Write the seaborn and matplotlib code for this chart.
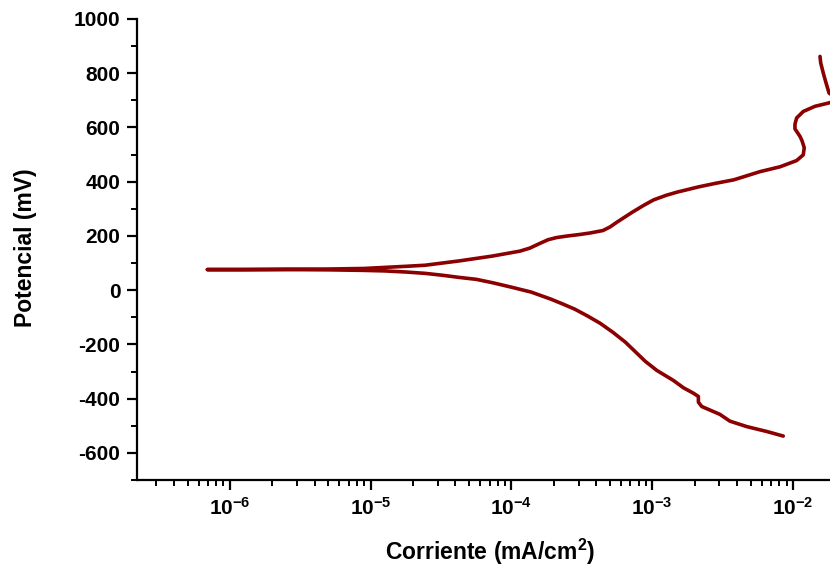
import numpy as np
import pandas as pd
import matplotlib
matplotlib.use("Agg")
import matplotlib.pyplot as plt
import matplotlib.ticker as mticker
import seaborn as sns

# log10 of current density (mA/cm2) and potential (mV), scan ordered cathodic -> anodic
log_current = [
    -2.069, -2.187, -2.329, -2.448, -2.519, -2.648, -2.672, -2.672, -2.707, -2.778,
    -2.849, -2.967, -3.05, -3.19, -3.28, -3.37, -3.46, -3.55, -3.64, -3.72,
    -3.86, -4.00, -4.13, -4.25, -4.37, -4.49, -4.613, -4.75, -4.90, -5.05,
    -5.30, -5.60, -5.90, -6.16,
    -5.90, -5.60, -5.30, -5.05, -4.90, -4.75, -4.613, -4.37, -4.133, -3.94,
    -3.87, -3.80, -3.74, -3.68, -3.60, -3.52, -3.44, -3.35, -3.30, -3.25,
    -3.14, -3.06, -2.99, -2.90, -2.82, -2.67, -2.55, -2.42, -2.235, -2.092,
    -1.974, -1.927, -1.920, -1.935, -1.950, -1.986, -1.986, -1.974, -1.927, -1.844,
    -1.749, -1.70, -1.69, -1.744, -1.765, -1.785, -1.803, -1.808,
]
potential = [
    -538, -521, -503, -483, -458, -429, -413, -392, -380, -360,
    -333, -296, -262, -192, -155, -122, -95, -70, -50, -33,
    -7, 11, 27, 40, 47, 55, 62, 67, 71, 73,
    75, 76, 76, 76,
    76, 77, 78, 80, 84, 88, 92, 108, 126, 144,
    155, 172, 186, 194, 200, 205, 211, 220, 233, 251,
    288, 313, 333, 350, 362, 381, 394, 407, 437, 455,
    478, 499, 525, 550, 567, 595, 612, 635, 659, 678,
    690, 698, 708, 727, 764, 801, 838, 862,
]

y_ticks = [-600, -400, -200, 0, 200, 400, 600, 800, 1000]
x_tick_exps = [-6, -5, -4, -3, -2]

df = pd.DataFrame({"i": np.power(10.0, log_current), "E": potential})

sns.set_theme(style="ticks")
plt.rcParams["font.family"] = ["Liberation Sans", "DejaVu Sans"]
plt.rcParams["font.weight"] = "bold"
plt.rcParams["text.color"] = "black"
plt.rcParams["axes.labelcolor"] = "black"
plt.rcParams["xtick.color"] = "black"
plt.rcParams["ytick.color"] = "black"
plt.rcParams["mathtext.fontset"] = "custom"
plt.rcParams["mathtext.rm"] = "Liberation Sans:bold"
plt.rcParams["mathtext.bf"] = "Liberation Sans:bold"
plt.rcParams["mathtext.it"] = "Liberation Sans:bold:italic"
plt.rcParams["axes.unicode_minus"] = False

fig = plt.figure(figsize=(8.30, 5.69), dpi=100)
ax = fig.add_axes([137 / 830, 1 - 480 / 569, 1 - 137 / 830, (480 - 19) / 569])

sns.lineplot(data=df, x="i", y="E", sort=False, estimator=None,
             color="#8B0000", linewidth=2.6, ax=ax)
for ln in ax.get_lines():
    ln.set_solid_joinstyle("round")
    ln.set_solid_capstyle("round")

ax.set_xscale("log")
ax.set_xlim(10 ** -6.66, 10 ** -1.737)
ax.set_ylim(-700, 1000)

ax.set_yticks(y_ticks)
ax.set_yticklabels([str(v) for v in y_ticks])
ax.yaxis.set_minor_locator(mticker.MultipleLocator(100))

ax.set_xticks([10.0 ** e for e in x_tick_exps])
ax.set_xticklabels([r"$\mathbf{10^{%d}}$" % e for e in x_tick_exps])
ax.xaxis.set_minor_locator(mticker.LogLocator(base=10, subs=np.arange(2, 10)))
ax.xaxis.set_minor_formatter(mticker.NullFormatter())

for s in ["top", "right"]:
    ax.spines[s].set_visible(False)
for s in ["left", "bottom"]:
    ax.spines[s].set_linewidth(1.6)
    ax.spines[s].set_color("black")

ax.tick_params(axis="both", which="major", direction="out", length=7, width=1.6,
               labelsize=15, pad=5, colors="black", labelcolor="black")
ax.tick_params(axis="both", which="minor", direction="out", length=4, width=1.4,
               colors="black")
for lab in ax.get_yticklabels() + ax.get_xticklabels():
    lab.set_fontweight("bold")
    lab.set_color("black")

ax.set_xlabel(r"Corriente (mA/cm$^{2}$)", fontsize=16.5, fontweight="bold", color="black")
ax.set_ylabel("Potencial (mV)", fontsize=16.5, fontweight="bold", color="black")
ax.xaxis.set_label_coords((490 - 137) / 693, (480 - 537) / 461)
ax.yaxis.set_label_coords((37 - 137) / 693, 0.503)

ax.set_facecolor("white")
fig.patch.set_facecolor("white")
ax.grid(False)

fig.savefig("out.png", dpi=100)
